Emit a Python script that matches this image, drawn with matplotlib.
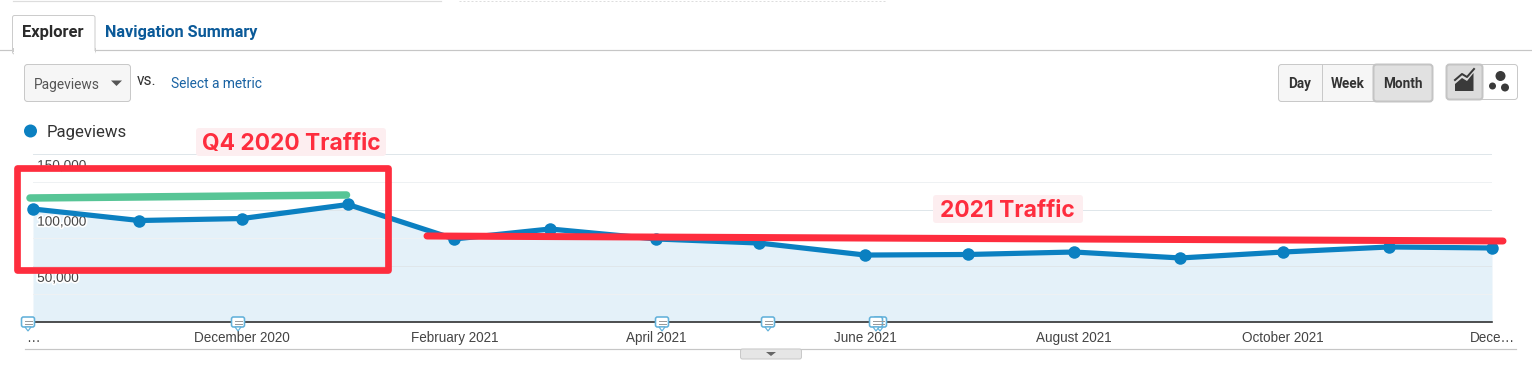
import matplotlib
matplotlib.use("Agg")
import matplotlib.pyplot as plt
import matplotlib.patheffects as pe
from matplotlib.patches import FancyBboxPatch, Rectangle, Circle, Polygon
from datetime import date

months = [date(2020, 10, 1), date(2020, 11, 1), date(2020, 12, 1), date(2021, 1, 1), date(2021, 2, 1),
          date(2021, 3, 1), date(2021, 4, 1), date(2021, 5, 1), date(2021, 6, 1), date(2021, 7, 1),
          date(2021, 8, 1), date(2021, 9, 1), date(2021, 10, 1), date(2021, 11, 1), date(2021, 12, 1)]
pageviews = [100600, 90350, 92100, 104600, 73900, 82800, 73900, 70300, 59600, 60100, 62300, 57000, 62300, 66800, 65900]
y_ticks = [50000, 100000, 150000]
y_labels = ["50,000", "100,000", "150,000"]
y_minor = [25000, 75000, 125000]
x_ticks = [date(2020, 10, 1), date(2020, 12, 1), date(2021, 2, 1), date(2021, 4, 1), date(2021, 6, 1),
           date(2021, 8, 1), date(2021, 10, 1), date(2021, 12, 1)]
x_labels = ["…", "December 2020", "February 2021", "April 2021", "June 2021", "August 2021", "October 2021", "Dece…"]

W, H = 1532, 380
PX = 0.72
BLUE = "#0b80c1"
RED = "#fe2d3e"
GREEN = "#57c596"
SANS = "Liberation Sans"

fig = plt.figure(figsize=(W / 100, H / 100), dpi=100, facecolor="white")
ax = fig.add_axes([33 / W, (H - 322) / H, 1459 / W, 168.5 / H], facecolor="none", zorder=1)
ax.fill_between(months, pageviews, 0, color="#e4f1f9", lw=0, zorder=1)
ax.plot(months, pageviews, color=BLUE, lw=5.2 * PX, marker="o", ms=12.5 * PX, mew=0, clip_on=False, zorder=3)
ax.set_xlim(months[0], months[-1])
ax.set_ylim(0, 150000)
ax.set_axisbelow(False)
ax.set_yticks(y_ticks, y_labels)
ax.set_yticks(y_minor, minor=True)
ax.grid(True, axis="y", which="major", color="#dfe6ea", lw=1 * PX)
ax.grid(True, axis="y", which="minor", color="#eef1f3", lw=1 * PX)
ax.tick_params(axis="y", which="both", length=0, pad=-3, labelsize=13.6 * PX, labelcolor="#444444")
for lab in ax.get_yticklabels():
    lab.set_ha("left")
    lab.set_va("top")
    lab.set_family(SANS)
    lab.set_transform(lab.get_transform() + matplotlib.transforms.ScaledTranslation(0, -5 / 100, fig.dpi_scale_trans))
    lab.set_path_effects([pe.withStroke(linewidth=2.5, foreground="white")])
ax.set_xticks(x_ticks, x_labels, family=SANS)
ax.tick_params(axis="x", length=0, pad=6.5, labelsize=13.5 * PX, labelcolor="#444444")
for s in ["top", "left", "right"]:
    ax.spines[s].set_visible(False)
ax.spines["bottom"].set_color("#2a2a2a")
ax.spines["bottom"].set_linewidth(1.6 * PX)

ov = fig.add_axes([0, 0, 1, 1], facecolor="none", zorder=2)
ov.set_xlim(0, W)
ov.set_ylim(H, 0)
ov.axis("off")


def box(x0, y0, x1, y1, fc="#f6f6f6", ec="#c9c9c9", r=3, lw=1, z=2):
    p = FancyBboxPatch((x0 + r, y0 + r), x1 - x0 - 2 * r, y1 - y0 - 2 * r,
                       boxstyle=f"round,pad={r},rounding_size={r}", fc=fc, ec=ec, lw=lw * PX, zorder=z)
    ov.add_patch(p)


def txt(x, y, s, size, color="#333333", weight="normal", ha="left", fam="Roboto", z=5):
    return ov.text(x, y, s, fontsize=size * PX, color=color, fontweight=weight, ha=ha, va="center", family=fam, zorder=z)


def bubble(x):
    box(x - 6.5, 317, x + 6.5, 327, fc="white", ec="#62b1da", r=2, lw=1.6, z=3)
    ov.add_patch(Polygon([[x - 3, 327], [x + 3, 327], [x, 331]], fc="white", ec="#62b1da", lw=1.2 * PX, zorder=3))
    ov.plot([x - 3.5, x + 3.5], [321, 321], color="#9a9a9a", lw=1 * PX, zorder=4)
    ov.plot([x - 3.5, x + 3.5], [323.5, 323.5], color="#9a9a9a", lw=1 * PX, zorder=4)


# top chrome
ov.plot([13, 441], [1, 1], color="#dddddd", lw=1.2 * PX)
ov.plot([459, 885], [1, 1], color="#dddddd", lw=1 * PX, ls=(0, (2, 2)))
ov.plot([0, W], [50, 50], color="#c6c6c6", lw=1.2 * PX, zorder=1)
box(12.5, 15.5, 95, 54, fc="white", ec="#cccccc", r=2, z=1.5)
ov.add_patch(Rectangle((13.5, 51), 81, 4, fc="white", ec="none", zorder=1.6))
ov.plot([12.5, 12.5], [48, 50.5], color="#cccccc", lw=1 * PX, zorder=1.7)
ov.plot([95, 95], [48, 50.5], color="#cccccc", lw=1 * PX, zorder=1.7)
txt(22, 33, "Explorer", 16.5, "#2b2b2b", "bold")
txt(105, 33, "Navigation Summary", 16.2, "#0b5a99", "bold")

box(24.5, 64.5, 130.5, 101.5)
txt(34, 84.5, "Pageviews", 13.8, "#555555")
ov.add_patch(Polygon([[111, 80.5], [122, 80.5], [116.5, 86]], fc="#555555", ec="none", zorder=5))
txt(137, 80.5, "vs.", 15.5, "#333333")
txt(171, 84, "Select a metric", 13.8, "#1a63a3")

# period buttons
box(1278.5, 64.5, 1432.5, 101.5)
box(1373.5, 64.5, 1432.5, 101.5, fc="#e1e1e1", ec="#c4c4c4", lw=2)
ov.plot([1321.5, 1321.5], [65, 101], color="#c9c9c9", lw=1 * PX, zorder=3)
txt(1300, 84, "Day", 13.5, "#333333", "bold", "center")
txt(1347.5, 84, "Week", 13.5, "#333333", "bold", "center")
txt(1403, 84, "Month", 13.5, "#333333", "bold", "center")

# chart type buttons
box(1446.5, 64.5, 1517.5, 99.5, fc="white")
box(1446.5, 64.5, 1482.5, 99.5, fc="#dcdcdc", ec="#c4c4c4", lw=2)
ov.add_patch(Polygon([[1455, 91], [1455, 84], [1462, 78], [1467, 81], [1473.5, 73], [1473.5, 91]], fc="#3a3a3a", ec="none", zorder=5))
ov.plot([1455, 1462, 1467, 1474], [80, 74, 77, 69], color="#3a3a3a", lw=2 * PX, zorder=5)
ov.add_patch(Circle((1500.5, 76), 5, fc="#3a3a3a", ec="none", zorder=5))
ov.add_patch(Circle((1492.5, 86), 3.5, fc="#3a3a3a", ec="none", zorder=5))
ov.add_patch(Circle((1505, 87.5), 4, fc="#3a3a3a", ec="none", zorder=5))

# legend
ov.add_patch(Circle((30.5, 131), 6.5, fc=BLUE, ec="none", zorder=5))
txt(47, 132.5, "Pageviews", 16.7, "#333333")

# comment markers and footer
ov.plot([25, 1516], [348.5, 348.5], color="#c6c6c6", lw=1.2 * PX, zorder=1)
for bx in [28, 238, 662, 768, 880, 876]:
    bubble(bx)
box(740.5, 349, 801.5, 359, fc="#e6e6e6", ec="#c9c9c9", r=2, z=1)
ov.add_patch(Polygon([[766, 352], [776, 352], [771, 356]], fc="#666666", ec="none", zorder=5))

# annotations drawn over the chart
ov.add_patch(Rectangle((17, 167.5), 370.5, 102, fc="none", ec=RED, lw=6.7 * PX, joinstyle="round", zorder=6))
ov.plot([30, 346.5], [198, 195], color=GREEN, lw=7.5 * PX, solid_capstyle="round", zorder=6)
ov.plot([427, 1503], [236, 241], color=RED, lw=7 * PX, solid_capstyle="round", zorder=7)
box(196, 128, 386, 156, fc="#fdeef0", ec="none", r=3, z=6)
box(933, 195, 1083, 223, fc="#fdeef0", ec="none", r=3, z=6)
txt(291, 144, "Q4 2020 Traffic", 22.8, RED, "bold", "center", "Inter", 8)
txt(1007.5, 211, "2021 Traffic", 22.8, RED, "bold", "center", "Inter", 8)

fig.savefig("out.png", dpi=100, facecolor="white")
